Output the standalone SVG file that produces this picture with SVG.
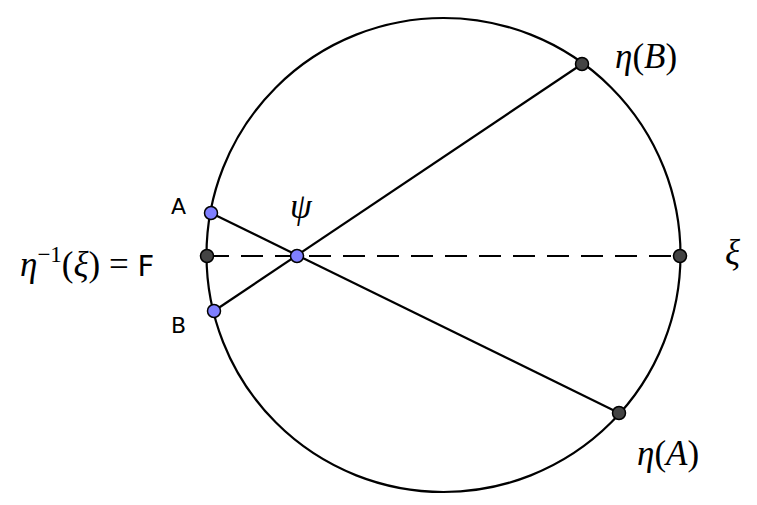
<svg xmlns="http://www.w3.org/2000/svg" width="757" height="505" viewBox="0 0 757 505">
<style>
.l{stroke:#000;stroke-width:2.2;fill:none}
.pb{fill:#444;stroke:#000;stroke-width:1.5}
.pu{fill:#7f7fff;stroke:#000;stroke-width:1.5}
.m{font-family:"Liberation Serif",serif;font-size:35px}
.i{font-style:italic}
.s{font-family:"DejaVu Sans",sans-serif;font-size:22px}
</style>
<rect width="757" height="505" fill="#fff"/>
<g id="connectors">
<circle class="l" cx="443.5" cy="255" r="237"/>
<line class="l" x1="211" y1="213" x2="619" y2="413"/>
<line class="l" x1="214" y1="311" x2="582" y2="64"/>
<line class="l" x1="207" y1="256" x2="680" y2="256" stroke-dasharray="22,12"/>
</g>
<g id="A"><circle class="pu" cx="211" cy="213" r="6.5"/><text class="s" x="171" y="214">A</text></g>
<g id="B"><circle class="pu" cx="214" cy="311" r="6.5"/><text class="s" x="171" y="333">B</text></g>
<g id="F"><circle class="pb" cx="207" cy="256" r="6.5"/><text class="m" x="20" y="276"><tspan class="i">η</tspan><tspan style="font-size:23px" dy="-14">−1</tspan><tspan dy="14">(</tspan><tspan class="i">ξ</tspan><tspan>) = </tspan><tspan style="font-family:'DejaVu Sans',sans-serif;font-size:29px">F</tspan></text></g>
<g id="psi"><circle class="pu" cx="297" cy="256" r="6.5"/><text class="m i" x="290" y="218">ψ</text></g>
<g id="etaB"><circle class="pb" cx="582" cy="64" r="6.5"/><text class="m" x="615" y="68"><tspan class="i">η</tspan>(<tspan class="i">B</tspan>)</text></g>
<g id="xi"><circle class="pb" cx="680" cy="256" r="6.5"/><text class="m i" x="725" y="264">ξ</text></g>
<g id="etaA"><circle class="pb" cx="619" cy="413" r="6.5"/><text class="m" x="637" y="465"><tspan class="i">η</tspan>(<tspan class="i">A</tspan>)</text></g>
</svg>
